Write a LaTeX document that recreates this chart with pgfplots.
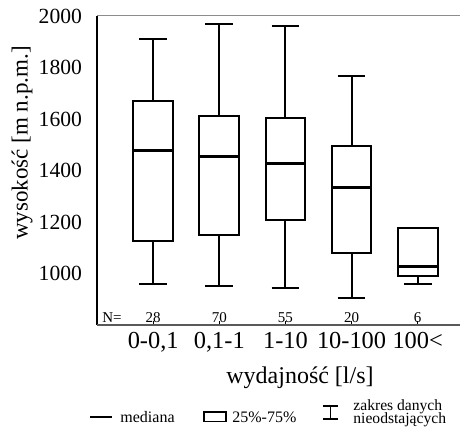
\documentclass[border=0pt]{standalone}
\usepackage{fontspec}
\setmainfont{Liberation Serif}
\usepackage{pgfplots}
\pgfplotsset{compat=1.18}
\usepgfplotslibrary{statistics}

\begin{document}
\begin{tikzpicture}
\begin{axis}[
  at={(48.5pt,53pt)}, anchor=south west,
  scale only axis, width=181.5pt, height=154.5pt,
  xmin=0.15, xmax=5.64, ymin=800, ymax=2000,
  axis line style={draw=none},
  ytick={1000,1200,1400,1600,1800,2000},
  xtick={1,2,3,4,5},
  xticklabels={{0-0,1},{0,1-1},{1-10},{10-100},{100<}},
  tick pos=left,
  tick align=inside,
  ytick style={draw=none},
  xtick style={black, line width=0.6pt},
  major tick length=2pt,
  /pgf/number format/assume math mode=true,
  /pgf/number format/1000 sep={},
  yticklabel style={font=\fontsize{10.8}{12}\selectfont, xshift=-4pt},
  xticklabel style={font=\fontsize{12.2}{14}\selectfont},
  clip=false,
  boxplot/draw direction=y,
  boxplot/box extend=0.6,
  boxplot/whisker extend=0.42,
  boxplot/every median/.style={line width=1.5pt},
]
\addplot[black, line width=1pt, boxplot prepared={draw position=1,
  lower whisker=960, lower quartile=1128, median=1478, upper quartile=1671, upper whisker=1910}] coordinates {};
\addplot[black, line width=1pt, boxplot prepared={draw position=2,
  lower whisker=952, lower quartile=1150, median=1453, upper quartile=1612, upper whisker=1970}] coordinates {};
\addplot[black, line width=1pt, boxplot prepared={draw position=3,
  lower whisker=943, lower quartile=1208, median=1428, upper quartile=1602, upper whisker=1962}] coordinates {};
\addplot[black, line width=1pt, boxplot prepared={draw position=4,
  lower whisker=903, lower quartile=1080, median=1333, upper quartile=1497, upper whisker=1767}] coordinates {};
\addplot[black, line width=1pt, boxplot prepared={draw position=5,
  lower whisker=960, lower quartile=992, median=1026, upper quartile=1177, upper whisker=1178}] coordinates {};

\draw[black, line width=0.9pt] (rel axis cs:0,0) -- (rel axis cs:0,1);
\draw[black!45, line width=0.5pt] (rel axis cs:0,1) -- (rel axis cs:1,1);
\draw[black!65, line width=0.6pt] (rel axis cs:0,0) -- (rel axis cs:1,0);

\node[font=\fontsize{7.5}{9}\selectfont, anchor=west, inner sep=0pt] at ([xshift=2.5pt]axis cs:0.15,830) {N=};
\node[font=\fontsize{7.5}{9}\selectfont] at (axis cs:1,830) {28};
\node[font=\fontsize{7.5}{9}\selectfont] at (axis cs:2,830) {70};
\node[font=\fontsize{7.5}{9}\selectfont] at (axis cs:3,830) {55};
\node[font=\fontsize{7.5}{9}\selectfont] at (axis cs:4,830) {20};
\node[font=\fontsize{7.5}{9}\selectfont] at (axis cs:5,830) {6};
\end{axis}

% axis labels
\node[font=\fontsize{12}{14}\selectfont] at (150pt,26.5pt) {wydajność [l/s]};
\node[font=\fontsize{11.5}{14}\selectfont, rotate=90] at (11pt,144pt) {wysokość [m n.p.m.]};

% legend
\draw[black, line width=1.3pt] (45pt,7pt) -- (56pt,7pt);
\node[font=\fontsize{8}{9}\selectfont, anchor=west, inner sep=0pt] at (60pt,7pt) {mediana};
\draw[black, line width=0.7pt] (102pt,4.7pt) rectangle (113pt,9.5pt);
\node[font=\fontsize{8}{9}\selectfont, anchor=west, inner sep=0pt] at (116pt,7pt) {25\%-75\%};
\draw[black, line width=0.7pt] (161.5pt,12.5pt) -- (169pt,12.5pt)
  (165.25pt,12.5pt) -- (165.25pt,6pt) (161.5pt,6pt) -- (169pt,6pt);
\node[font=\fontsize{7.8}{9}\selectfont, anchor=base west, inner sep=0pt] at (176.5pt,10.2pt) {zakres danych};
\node[font=\fontsize{7.8}{9}\selectfont, anchor=base west, inner sep=0pt] at (176.5pt,3.6pt) {nieodstających};

\pgfresetboundingbox
\path (0pt,0pt) rectangle (230pt,215.5pt);
\end{tikzpicture}
\end{document}
